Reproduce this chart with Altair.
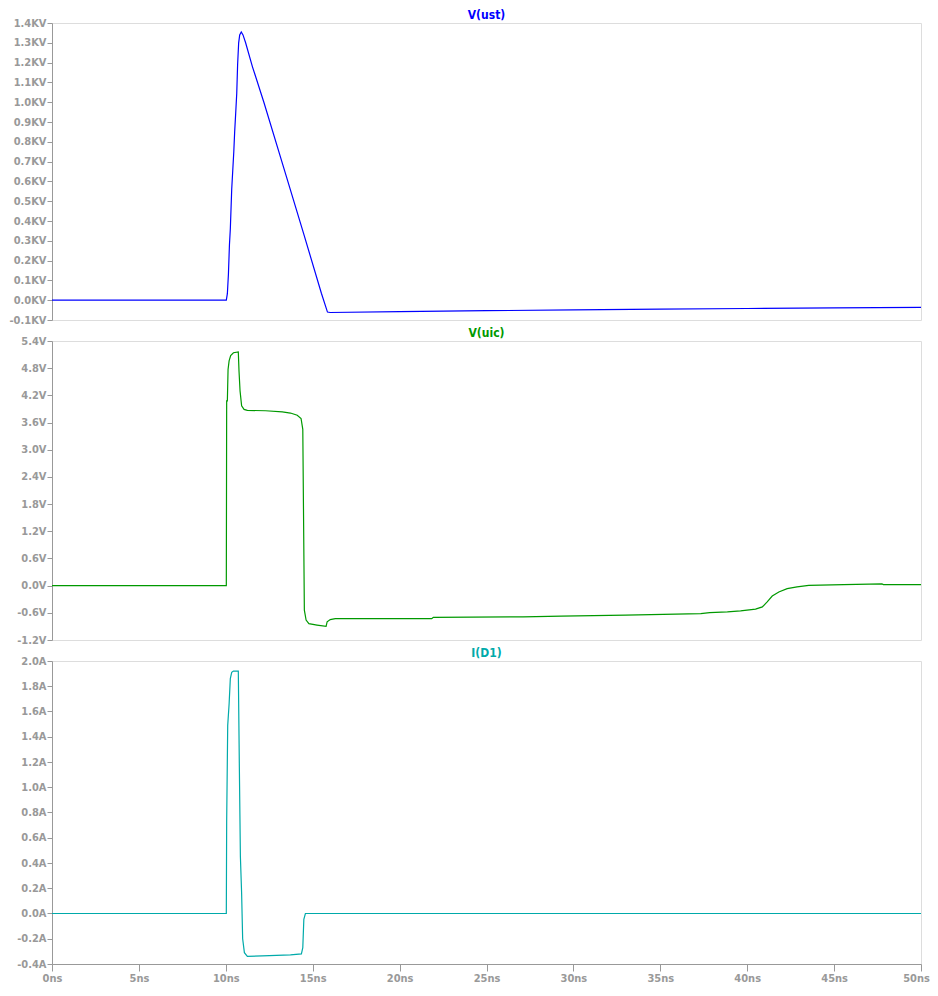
import altair as alt
import pandas as pd

# ---------- data (time in ns) ----------
t_ust = [0, 10.03, 10.09, 10.15, 10.21, 10.26, 10.34, 10.40, 10.46, 10.51, 10.57, 10.63,
         10.68, 10.74, 10.80, 10.89, 10.99, 11.14, 11.53, 12.19, 13.5, 14.5, 15.5, 15.85,
         16.0, 20, 25, 30, 35, 40, 45, 50]
v_ust = [0, 0, 0.033, 0.13, 0.28, 0.36, 0.56, 0.655, 0.75, 0.85, 0.945, 1.045,
         1.19, 1.30, 1.34, 1.355, 1.34, 1.30, 1.18, 1.0, 0.62, 0.33, 0.035, -0.06,
         -0.062, -0.058, -0.053, -0.049, -0.045, -0.042, -0.039, -0.036]

t_uic = [0, 10.03, 10.05, 10.09, 10.13, 10.19, 10.28, 10.44, 10.72, 10.76, 10.82, 10.91,
         11.05, 11.24, 12.29, 13.25, 13.72, 14.11, 14.33, 14.43, 14.47, 14.52, 14.62,
         14.78, 15.25, 15.77, 15.83, 16.01, 16.30, 21.85, 21.94, 27.1, 29.3, 33.0,
         37.33, 37.84, 38.86, 39.62, 40.48, 40.87, 41.15, 41.44, 41.82, 42.30, 42.87,
         43.54, 45.55, 47.75, 47.84, 50.0]
v_uic = [0, 0, 4.08, 4.08, 4.77, 4.96, 5.08, 5.14, 5.16, 4.74, 4.30, 3.97,
         3.89, 3.87, 3.86, 3.835, 3.81, 3.76, 3.69, 3.45, 1.69, -0.54, -0.76,
         -0.84, -0.87, -0.90, -0.80, -0.75, -0.73, -0.73, -0.70, -0.69, -0.675, -0.65,
         -0.616, -0.594, -0.58, -0.557, -0.52, -0.47, -0.36, -0.23, -0.14, -0.066, -0.029,
         0.007, 0.022, 0.037, 0.022, 0.022]

t_id1 = [0, 10.03, 10.05, 10.11, 10.19, 10.26, 10.34, 10.44, 10.72, 10.78, 10.84, 10.91,
         10.97, 11.07, 11.24, 12.10, 13.72, 14.35, 14.43, 14.49, 14.58, 50]
i_id1 = [0, 0, 0.724, 1.49, 1.66, 1.86, 1.91, 1.92, 1.92, 1.16, 0.45, 0.16,
         -0.20, -0.31, -0.34, -0.335, -0.327, -0.32, -0.27, -0.047, 0, 0]

titles = ["V(ust)", "V(uic)", "I(D1)"]
colors = ["#0000ff", "#009900", "#00aaaa"]
units = ["KV", "V", "A"]

x_ticks = [0, 5, 10, 15, 20, 25, 30, 35, 40, 45, 50]
ust_ticks = [round(-0.1 + 0.1 * k, 2) for k in range(16)]
uic_ticks = [round(-1.2 + 0.6 * k, 2) for k in range(12)]
id1_ticks = [round(-0.4 + 0.2 * k, 2) for k in range(13)]

GREY = "#999999"
FONT = "DejaVu Sans Condensed, Liberation Sans Narrow, Arial Narrow, DejaVu Sans"
X_DOMAIN = [0, 50]


def panel(t, v, color, title, domain, ticks, unit, height, show_x):
    df = pd.DataFrame({"t": t, "v": v, "i": list(range(len(t)))})
    if show_x:
        xaxis = alt.Axis(values=x_ticks, labelExpr="datum.value + 'ns'", title=None,
                         grid=False, tickSize=7, labelPadding=1, labelFontSize=11,
                         labelColor=GREY, tickColor=GREY, domainColor=GREY,
                         labelFont=FONT, labelFontWeight="bold", labelFlush=False,
                         labelOffset={"expr": "datum.value == 50 ? -5 : 0"})
    else:
        xaxis = None
    lab = "(datum.value < 0 ? '-' : '') + format(abs(datum.value), '.1f') + '%s'" % unit
    yaxis = alt.Axis(values=ticks, labelExpr=lab, title=None, grid=False, tickSize=5,
                     labelPadding=1, labelFontSize=11, labelColor=GREY, tickColor=GREY,
                     domainColor=GREY, labelFont=FONT, labelFontWeight="bold")
    xenc = alt.X("t:Q", scale=alt.Scale(domain=X_DOMAIN, nice=False, zero=False), axis=xaxis)
    yenc = alt.Y("v:Q", scale=alt.Scale(domain=domain, nice=False, zero=False), axis=yaxis)

    line = alt.Chart(df).mark_line(color=color, strokeWidth=1.2, clip=True).encode(
        x=xenc, y=yenc, order="i:Q"
    )
    # panel title drawn through the scales: centred in time, at the top of the y range
    tdf = pd.DataFrame({"t": [(X_DOMAIN[0] + X_DOMAIN[1]) / 2], "v": [domain[1]], "label": [title]})
    head = alt.Chart(tdf).mark_text(
        color=color, font=FONT, fontSize=12, fontWeight="bold", baseline="bottom",
        align="center", dy=-1
    ).encode(x=xenc, y=yenc, text="label:N")
    return alt.layer(line, head).properties(width=869, height=height)


p1 = panel(t_ust, v_ust, colors[0], titles[0], [-0.1, 1.4], ust_ticks, units[0], 297, False)
p2 = panel(t_uic, v_uic, colors[1], titles[1], [-1.2, 5.4], uic_ticks, units[1], 299, False)
p3 = panel(t_id1, i_id1, colors[2], titles[2], [-0.4, 2.0], id1_ticks, units[2], 303, True)

chart = alt.vconcat(p1, p2, p3, spacing=21, bounds="flush").properties(
    padding={"left": 0, "top": 0, "right": 0, "bottom": 0}
).configure_view(stroke=GREY, strokeWidth=1).configure(background="white")

chart.save("out.html", embed_options={"renderer": "svg", "actions": False})
